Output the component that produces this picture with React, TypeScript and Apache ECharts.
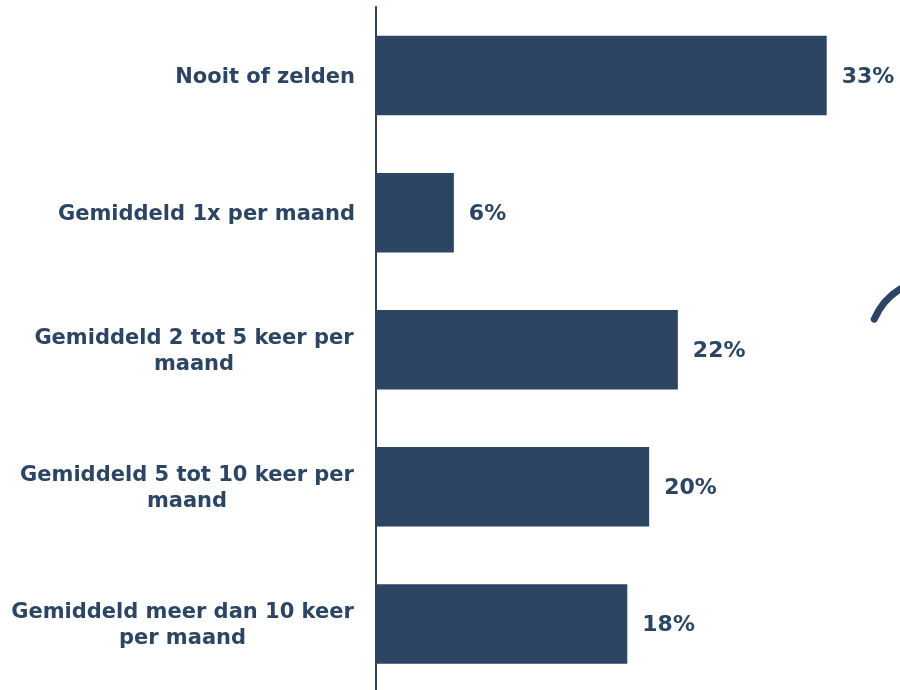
import React, { useEffect, useRef } from "react";
import * as echarts from "echarts";

const categories = [
  "Nooit of zelden",
  "Gemiddeld 1x per maand",
  "Gemiddeld 2 tot 5 keer per\nmaand",
  "Gemiddeld 5 tot 10 keer per\nmaand",
  "Gemiddeld meer dan 10 keer\nper maand",
];
const values = [33.0, 5.7, 22.1, 20.0, 18.4];

const COLOR = "#2c4562";
const FONT = "'DejaVu Sans', Verdana, sans-serif";
const FS = 21;

function measure(text: string): number {
  const c = document.createElement("canvas").getContext("2d");
  if (!c) return text.length * FS * 0.6;
  c.font = `bold ${FS}px 'DejaVu Sans'`;
  return c.measureText(text).width;
}

export default function App() {
  const ref = useRef<HTMLDivElement>(null);
  useEffect(() => {
    if (!ref.current) return;
    const chart = echarts.init(ref.current, undefined, { renderer: "svg" });
    const rich: Record<string, any> = {};
    categories.forEach((c, i) => {
      const lines = c.split("\n");
      const w = Math.ceil(Math.max(...lines.map(measure))) + 2;
      rich["c" + i] = {
        width: w,
        align: "center",
        fontSize: FS,
        fontWeight: "bold",
        fontFamily: FONT,
        color: COLOR,
        lineHeight: 26,
      };
    });
    chart.setOption({
      animation: false,
      grid: { left: 376, top: 7, height: 685.5, right: 5 },
      xAxis: {
        type: "value",
        min: 0,
        max: 38,
        show: false,
        splitLine: { show: false },
      },
      yAxis: {
        type: "category",
        data: categories,
        inverse: true,
        axisLine: { show: true, lineStyle: { color: COLOR, width: 2 } },
        axisTick: { show: false },
        axisLabel: {
          margin: 21,
          align: "right",
          color: COLOR,
          fontSize: FS,
          fontWeight: "bold",
          fontFamily: FONT,
          lineHeight: 26,
          formatter: (v: string, i: number) => {
            const lines = v.split("\n");
            if (lines.length === 1) return v;
            return lines.map((l) => `{c${i}|${l}}`).join("\n");
          },
          rich,
        },
      },
      series: [
        {
          type: "bar",
          data: values,
          barCategoryGap: "42%",
          itemStyle: { color: COLOR },
          label: {
            show: true,
            position: "right",
            distance: 15,
            color: COLOR,
            fontSize: 22,
            fontWeight: "bold",
            fontFamily: FONT,
            formatter: (p: any) => `${Math.round(p.value)}%`,
          },
        },
      ],
      graphic: [
        {
          type: "arc",
          shape: { cx: 935, cy: 345, r: 66, startAngle: -2.74, endAngle: -2.12, clockwise: true },
          style: { stroke: COLOR, lineWidth: 7, fill: "none", lineCap: "round" },
          silent: true,
        },
      ],
    });
    return () => chart.dispose();
  }, []);
  return (
    <div
      ref={ref}
      style={{ position: "fixed", left: 0, top: 0, width: 900, height: 700 }}
    />
  );
}
